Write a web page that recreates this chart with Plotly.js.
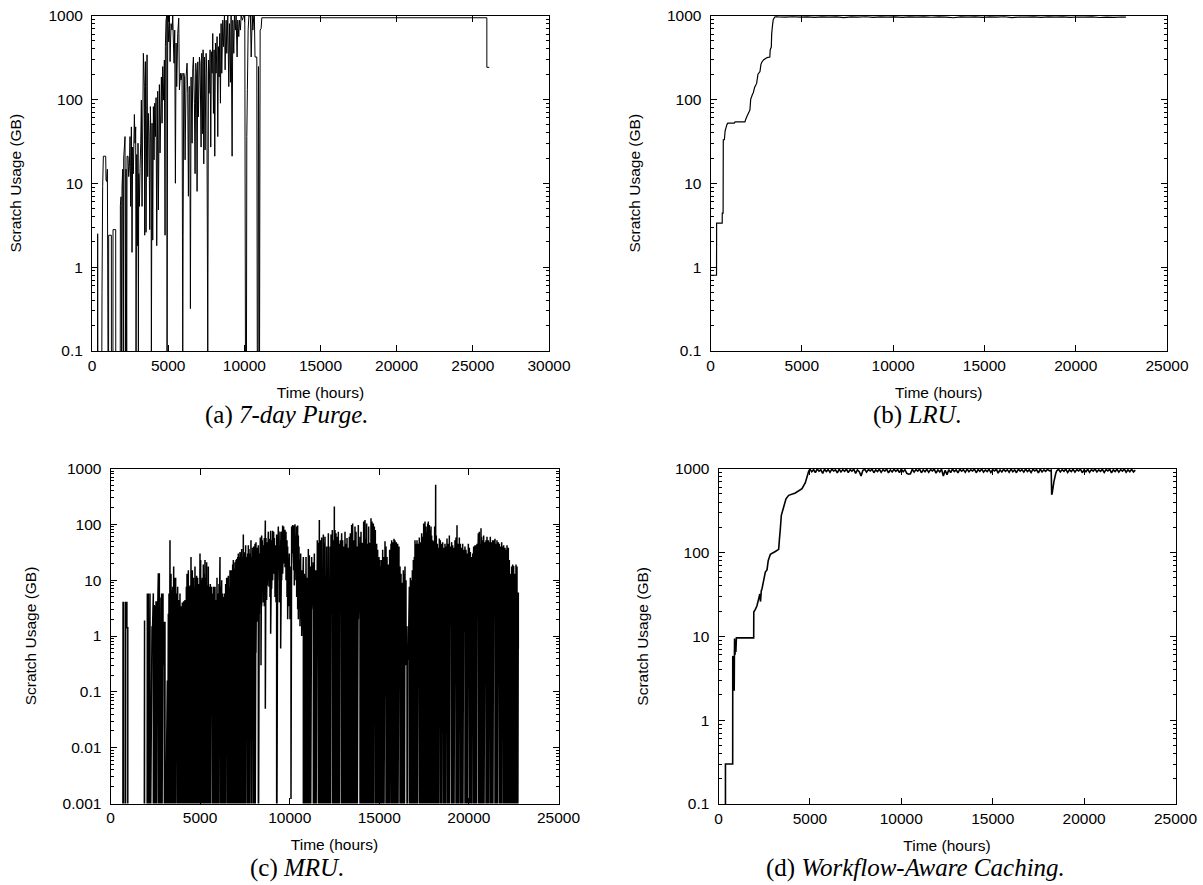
<!DOCTYPE html>
<html>
<head>
<meta charset="utf-8">
<script src="https://cdn.plot.ly/plotly-3.0.1.min.js"></script>
<style>html,body{margin:0;padding:0;background:#fff;}</style>
</head>
<body>
<div id="chart" style="width:1203px;height:885px;"></div>
<script>
// ---------------- DATA ----------------
// Tick labels
const xTicksA = [0, 5000, 10000, 15000, 20000, 25000, 30000];
const xTicksB = [0, 5000, 10000, 15000, 20000, 25000];
const yTicksUsage = [0.1, 1, 10, 100, 1000];
const yTicksUsageLabels = ['0.1', '1', '10', '100', '1000'];
const yTicksMRU = [0.001, 0.01, 0.1, 1, 10, 100, 1000];
const yTicksMRULabels = ['0.001', '0.01', '0.1', '1', '10', '100', '1000'];
const captions = ['(a) <i>7-day Purge.</i>', '(b) <i>LRU.</i>', '(c) <i>MRU.</i>', '(d) <i>Workflow-Aware Caching.</i>'];
const xTitle = 'Time (hours)';
const yTitle = 'Scratch Usage (GB)';

// (a) 7-day Purge: scratch usage (GB) over time (hours); 0 = empty scratch
const purgeHours = [
  0,360,372,385,645,657,700,745,900,920,
  960,1010,1050,1090,1095,1270,1275,1375,1380,1555,
  1560,1855,1862,1905,1949,1971,2015,2059,2080,2168,
  2190,2234,2278,2300,2365,2409,2453,2497,2540,2584,
  2628,2672,2716,2782,2825,2869,2891,2935,2979,3022,
  3044,3066,3110,3154,3198,3241,3285,3373,3438,3460,
  3504,3548,3613,3657,3701,3745,3789,3833,3876,3898,
  3942,3986,4030,4073,4117,4161,4205,4249,4314,4358,
  4424,4467,4555,4599,4643,4686,4752,4796,4818,4862,
  4906,4928,4971,5037,5081,5125,5190,5256,5300,5344,
  5387,5431,5475,5519,5563,5628,5694,5738,5803,5847,
  5913,5957,5980,6023,6066,6110,6176,6241,6285,6329,
  6373,6417,6460,6504,6570,6614,6658,6723,6767,6811,
  6855,6899,6942,6986,7052,7096,7161,7205,7249,7293,
  7337,7380,7424,7490,7534,7599,7643,7687,7753,7796,
  7840,7884,7928,7972,8015,8059,8103,8147,8212,8256,
  8300,8344,8387,8431,8475,8519,8585,8629,8694,8738,
  8804,8848,8913,8979,9023,9088,9132,9198,9242,9307,
  9351,9417,9461,9526,9570,9636,9680,9745,9789,9877,
  9943,10030,10074,10140,10162,10200,10250,10300,10400,10450,
  10520,10560,10620,10660,10700,10820,10850,10900,10928,10960,
  10975,11000,11016,11038,11103,11147,25920,25920,26080
];
const purgeGB = [
  0,0,2.5,0,0,0.5,9.1,21,21,11,
  10.5,14.7,0,0,2.4,2.4,0,0,2.8,2.8,
  0,0,5.4,6.9,0,9,14.7,0,20,36,
  0,14.7,0,21,21,12,15.8,36,5.3,47,
  1.5,27,13,66,30,47,0,22,1.8,30,
  0,13,5.3,15,30,98,5.3,354,142,2.4,
  282,2.6,340,12,68,36,2.8,82,30,0,
  52,2.1,82,19,90,36,105,1.8,125,4.8,
  150,23,185,52,246,98,295,2.4,425,880,
  990,0,990,485,990,282,800,670,990,470,
  270,670,10,470,142,610,930,130,205,170,
  205,0,2.4,205,185,19,185,270,118,7,
  142,142,0.32,185,30,235,320,90,13,270,
  205,8,280,62,320,270,27,354,39,390,
  17,320,25,354,205,0,295,118,390,27,
  370,205,610,68,390,21,470,205,560,36,
  425,185,610,90,800,205,880,425,990,225,
  880,354,990,142,800,160,990,21,880,354,
  990,670,990,320,880,560,880,670,990,880,
  990,990,0,0,36,130,670,990,990,320,
  990,670,990,990,320,320,0,0,246,23,
  0,0,4.8,670,700,940,940,241,241
];

// (b) LRU
const lruHours = [
  0,330,335,640,645,690,700,760,800,850,
  900,950,1300,1350,1885,1930,2000,2100,2160,2200,
  2300,2343,2420,2527,2600,2710,2760,2802,2900,3000,
  3100,3250,3270,3330,3350,3400,3440,3520,3571,3700,
  4100,4500,4900,5300,5700,6100,6500,6900,7300,7700,
  8100,8500,8900,9300,9700,10100,10500,10900,11300,11700,
  12100,12500,12900,13300,13700,14100,14500,14900,15300,15700,
  16100,16500,16900,17300,17700,18100,18500,18900,19300,19700,
  20100,20500,20900,21300,21700,22100,22500,22750
];
const lruGB = [
  0.8,0.8,3.35,3.35,4.4,4.4,33,33,42,46,
  50,52,52,54,54,58,63,70,75,100,
  115,120,140,155,200,215,260,275,295,305,
  315,320,390,420,600,780,900,960,965,962,
  958,966,955,963,950,965,958,962,945,963,
  957,966,952,962,958,964,948,961,957,965,
  953,962,958,940,961,956,964,950,962,957,
  966,944,960,955,963,951,961,957,965,948,
  960,954,962,946,958,952,960,958
];

// (c) MRU: sampled peaks and the trough that follows each peak
const mruHours = [
  688,700,740,840,850,915,965,1880,1900,2040,
  2055,2111,2204,2316,2390,2446,2483,2539,2613,2669,
  2725,2762,2855,2930,3004,3041,3171,3227,3264,3320,
  3376,3413,3469,3525,3562,3599,3636,3692,3748,3822,
  3878,3934,4008,4083,4157,4232,4269,4306,4343,4380,
  4436,4492,4529,4566,4622,4660,4715,4753,4808,4864,
  4920,4994,5031,5087,5124,5180,5236,5273,5310,5366,
  5422,5459,5515,5571,5645,5701,5757,5831,5887,5943,
  5999,6054,6110,6166,6203,6259,6315,6371,6427,6482,
  6538,6575,6612,6668,6706,6761,6817,6854,6910,6947,
  7003,7040,7096,7133,7189,7226,7282,7319,7375,7412,
  7468,7505,7542,7598,7654,7691,7728,7784,7840,7877,
  7933,7989,8063,8119,8156,8212,8249,8305,8361,8398,
  8435,8472,8528,8584,8640,8677,8714,8751,8807,8844,
  8900,8937,8993,9049,9105,9142,9179,9235,9272,9328,
  9365,9421,9458,9495,9551,9607,9663,9737,9793,9849,
  9886,9923,9979,10016,10072,10109,10165,10221,10258,10295,
  10351,10389,10444,10482,10519,10575,10612,10668,10761,10817,
  10854,10910,10966,11040,11096,11152,11226,11319,11375,11449,
  11542,11598,11654,11710,11784,11877,11933,11970,12063,12156,
  12249,12305,12379,12435,12491,12528,12584,12640,12714,12770,
  12826,12900,12956,13012,13086,13142,13198,13272,13328,13384,
  13458,13514,13570,13644,13700,13756,13830,13923,13979,14053,
  14128,14202,14258,14295,14351,14407,14481,14537,14593,14667,
  14723,14779,14853,14909,14983,15039,15095,15132,15188,15244,
  15318,15374,15430,15504,15578,15653,15690,15746,15820,15876,
  15950,16025,16099,16155,16211,16285,16341,16397,16434,16490,
  16546,16583,16620,16676,16732,16769,16843,16899,16955,16992,
  17048,17104,17178,17234,17290,17364,17420,17476,17513,17550,
  17606,17662,17699,17736,17792,17848,17885,17922,17978,18034,
  18089,18145,18182,18238,18294,18350,18406,18480,18536,18592,
  18666,18722,18778,18852,18908,18964,19038,19094,19150,19224,
  19280,19336,19410,19466,19522,19596,19652,19708,19782,19838,
  19894,19968,20024,20080,20154,20210,20266,20340,20396,20452,
  20526,20582,20638,20675,20712,20768,20824,20898,20954,21010,
  21084,21140,21196,21270,21326,21382,21456,21512,21568,21642,
  21698,21754,21828,21884,21940,22014,22070,22126,22163,22200,
  22256,22312,22386,22442,22498,22572,22628,22684,22721,22758
];
const mruPeakGB = [
  0,4,4,0,4,4,1.4,0,1.9,0,
  5.8,5.8,5.8,1.5,5.8,3.6,3.4,4.2,4.2,13.3,
  13.3,4.9,5.8,5.8,1.8,1.8,0.16,2.5,5.8,52,
  13,6.6,7.6,17.5,11,7.6,11,5.8,7.6,4.4,
  5.8,3.4,4,4.2,4.4,7.6,13,5.8,15,7.6,
  8,26,8.5,15,11,7.6,17.5,11,12,11,
  8.5,30,23,10,11,19,13,23,11,21,
  8,17.5,7.6,8.5,7.6,5.8,7.6,7.6,4.4,11,
  5.8,8.5,26,7.6,10,5.8,5,5.8,8.5,11,
  11,12,7.6,15,15,15,19,23,16,21,
  23,24,26,30,26,32,30,36,26,66,
  30,32,42,26,30,42,36,30,52,26,
  38,40,45,48,38,38,42,30,58,52,
  63,52,42,57,117,57,48,42,74,55,
  52,77,52,77,74,57,42,40,66,40,
  91,40,74,52,74,95,91,80,74,52,
  40,23,30,17.5,15,91,97,95,91,100,
  63,91,95,63,40,23,30,15,26,13,
  12,26,11,36,28,17.5,26,21,30,15,
  52,47,120,52,58,66,47,60,40,69,
  40,66,79,52,208,79,69,60,74,45,
  52,69,52,40,74,45,57,38,60,69,
  97,104,52,91,74,40,97,60,74,47,
  112,120,55,104,45,91,47,128,112,104,
  91,79,45,35,26,23,17.5,23,35,26,
  50,40,26,19,35,45,52,48,55,52,
  48,45,40,17.5,13,9,15,13,17.5,10,
  1.5,0.37,0.4,7.6,11,10,15,23,26,52,
  45,52,45,58,48,69,60,104,91,112,
  91,74,104,112,97,79,91,63,52,50,
  91,510,63,45,38,56,52,45,48,38,
  45,40,56,45,63,40,48,42,38,52,
  58,96,45,58,45,38,45,35,40,35,
  30,45,38,32,26,30,40,42,42,45,
  69,74,45,85,60,52,63,48,52,60,
  52,48,60,48,52,52,55,45,52,48,
  45,40,48,40,42,38,35,42,23,38,
  23,13,17.5,19,18,13,19,17.5,5.8,6
];
const mruTroughGB = [
  0,4,0,0,4,1.4,0,0,0,0,
  0,0,0,0.5,0,0,0,0,1.2,0,
  0,0,0,0.3,0,0,0,0,0,0,
  0,0,0,0,0,0,0,0.8,0,0,
  0,0,0,0,0,0,1.5,0,0,0,
  0,0.3,0,0,0,0,0,0,0,0,
  0,0,0,2,0,0,0,0,0,0,
  0,0,0,0,1,0,0,0,0,0,
  0,0.5,0,0,0,0,0,0,0,2,
  0,0,0,0,0,0,0.2,0,0,0,
  0,3,0,0,0,0,1.5,0,0,0,
  0,0,0,4,0,0,0,0.6,0,0,
  5,0,0,0.5,3,1.8,0,2.5,5,0.3,
  3.4,6,4,3.4,0.05,5.8,4.4,8,10,7.6,
  5,1.1,7,10,13,15,5,4,0,10,
  15,4,6.6,0.6,10,13,20,17,10,5,
  2,5,3.4,2,0.0012,20,30,15,8,25,
  10,5,3,2,3,1.5,2,1,0,0,
  0,0,0,0,0,0,3,0,0,0,
  5,0,0,0,0,0,0,0,0,0,
  0,2.5,0,0,0,0,0,0,0,0,
  3.4,0,0,0,0,0,0,0,0,0,
  0,0,0,0,0,0,2,0,0,0,
  0,0,0,0,0,0,0,0,0,0,
  1.3,0,0,0,0,0,0,0,0,0,
  0.08,0,0,0,0,1.3,0,0,0,0,
  0,0,0.3,0,0,0,0,0,0.3,0.3,
  0,0.37,0.4,0,0,0,0,0,0,0,
  0,0,1.6,0,0,0,0,0,0,0.5,
  0,0,0,0,0,0,0,2,0,0,
  0,0,0,0,0,1.5,0,0,0.6,0,
  0,0.8,0,0,0,1.5,0,0,0,2.5,
  0,0,0,2,0,0,0,1.2,0,0,
  0,3,0,0,0,2.8,0,0,0,2.6,
  0,0,0,3,0,0,0,2.5,0,0,
  0,3,0,0,0,2.2,0,0,0,1.6,
  0,0,0,2,0,0,0,0,0,0,
  0,0,0,0,0,0,0,0,0,0.6
];

// (d) Workflow-Aware Caching
const wacHours = [
  380,380,776,780,800,820,860,870,880,900,
  920,950,980,1925,1930,2015,2100,2197,2260,2300,
  2340,2380,2471,2562,2653,2720,2781,2836,3109,3291,
  3328,3383,3437,3565,3693,3838,4203,4568,4750,4841,
  4932,
  5000,5100,5200,5300,5400,5500,5600,5700,5800,5900,
  6000,6100,6200,6300,6400,6500,6600,6700,6800,6900,
  7000,7100,7200,7300,7400,7500,7600,7700,7800,7900,
  8000,8100,8200,8300,8400,8500,8600,8700,8800,8900,
  9000,9100,9200,9300,9400,9500,9600,9700,9800,9900,
  10000,10100,10200,10300,10400,10500,10600,10700,10800,10900,
  11000,11100,11200,11300,11400,11500,11600,11700,11800,11900,
  12000,12100,12200,12300,12400,12500,12600,12700,12800,12900,
  13000,13100,13200,13300,13400,13500,13600,13700,13800,13900,
  14000,14100,14200,14300,14400,14500,14600,14700,14800,14900,
  15000,15100,15200,15300,15400,15500,15600,15700,15800,15900,
  16000,16100,16200,16300,16400,16500,16600,16700,16800,16900,
  17000,17100,17200,17300,17400,17500,17600,17700,17800,17900,
  18000,18100,18200,18227,18260,18350,18450,18500,
  18600,18700,18800,18900,
  19000,19100,19200,19300,19400,19500,19600,19700,19800,19900,
  20000,20100,20200,20300,20400,20500,20600,20700,20800,20900,
  21000,21100,21200,21300,21400,21500,21600,21700,21800,21900,
  22000,22100,22200,22300,22400,22500,22600,22700,22800
];
const wacGB = [
  0,0.3,0.3,5.7,5.8,2.3,2.3,5.8,9.4,6,
  7,6.5,9.6,9.6,19.5,21,23,28,32,26,
  35,37,46.5,58.5,62,80,88,95,103,109,
  140,192,278,349,438,481,513,577,681,795,
  930,
  985,920,975,900,990,935,970,880,985,925,
  975,905,990,940,970,890,985,915,975,930,
  990,900,975,935,985,880,970,920,820,960,
  985,910,975,940,990,895,970,925,985,905,
  975,935,990,890,970,915,985,930,975,900,
  990,920,975,880,860,870,985,910,975,935,
  990,895,970,920,985,905,975,940,990,885,
  970,915,985,820,960,850,975,900,990,925,
  970,890,985,935,975,905,990,920,970,940,
  985,895,975,930,990,910,970,925,985,900,
  975,940,990,885,970,915,985,930,975,905,
  990,920,970,895,985,935,975,910,990,925,
  970,900,985,940,975,890,990,915,970,930,
  985,945,960,490,520,700,880,940,
  985,915,975,930,
  990,900,970,925,985,910,975,940,990,895,
  970,920,985,905,975,935,990,915,970,930,
  985,900,975,940,990,890,970,925,985,910,
  975,935,990,905,970,920,985,915,960
];

// ---------------- PLOT ----------------
// A log axis cannot show 0 GB: an empty scratch is drawn below the axis floor,
// where the subplot clips it away.
const belowFloor = level => v => (v > 0 ? v : level);
const onUsageAxis = belowFloor(yTicksUsage[0] * 0.85);
const onMRUAxis = belowFloor(yTicksMRU[0] * 1e-2);

const mruX = [], mruY = [];
mruHours.forEach((t, i) => {
  mruX.push(t, t);
  mruY.push(onMRUAxis(mruPeakGB[i]), onMRUAxis(mruTroughGB[i]));
});

const traces = [
  {x: purgeHours, y: purgeGB.map(onUsageAxis), xaxis: 'x', yaxis: 'y', type: 'scatter', mode: 'lines',
   line: {color: '#000', width: 1, simplify: false}, name: '7-day Purge'},
  {x: lruHours, y: lruGB.map(onUsageAxis), xaxis: 'x2', yaxis: 'y2', type: 'scatter', mode: 'lines',
   line: {color: '#000', width: 1.2, simplify: false}, name: 'LRU'},
  {x: mruX, y: mruY, xaxis: 'x3', yaxis: 'y3', type: 'scatter', mode: 'lines',
   line: {color: '#000', width: 1.5, simplify: false}, name: 'MRU'},
  {x: wacHours, y: wacGB.map(onUsageAxis), xaxis: 'x4', yaxis: 'y4', type: 'scatter', mode: 'lines',
   line: {color: '#000', width: 1.6, simplify: false}, name: 'Workflow-Aware Caching'}
];

const W = 1203, H = 885;
const FS = 15.5;
const sans = 'Liberation Sans, Arial, Helvetica, sans-serif';
const px = (a, b) => [a / W, b / W];
const py = (top, bottom) => [1 - bottom / H, 1 - top / H];

function minorLog(lo, hi) {
  const v = [];
  for (let e = lo; e < hi; e++) for (let k = 2; k <= 9; k++) v.push(k * Math.pow(10, e));
  return v;
}
function xAxis(domain, ticks, anchor) {
  return {
    domain, anchor, range: [0, ticks[ticks.length - 1]], fixedrange: true,
    tickmode: 'array', tickvals: ticks, ticktext: ticks.map(String),
    ticks: 'inside', ticklen: 6, tickwidth: 1, tickcolor: '#000',
    showline: true, linecolor: '#000', linewidth: 1, mirror: 'allticks',
    showgrid: false, zeroline: false, automargin: false,
    tickfont: {family: sans, size: FS, color: '#000'},
    title: {text: xTitle, font: {family: sans, size: FS, color: '#000'}, standoff: 14}
  };
}
function yAxis(domain, ticks, labels, anchor) {
  const lo = Math.round(Math.log10(ticks[0])), hi = Math.round(Math.log10(ticks[ticks.length - 1]));
  return {
    type: 'log', domain, anchor, range: [lo, hi], fixedrange: true,
    tickmode: 'array', tickvals: ticks, ticktext: labels,
    ticks: 'inside', ticklen: 6, tickwidth: 1, tickcolor: '#000',
    minor: {tickmode: 'array', tickvals: minorLog(lo, hi), ticks: 'inside', ticklen: 3, tickwidth: 1, tickcolor: '#000', showgrid: false},
    showline: true, linecolor: '#000', linewidth: 1, mirror: 'allticks',
    showgrid: false, zeroline: false, automargin: false, ticklabelstandoff: 5,
    tickfont: {family: sans, size: FS, color: '#000'},
    title: {text: yTitle, font: {family: sans, size: FS, color: '#000'}, standoff: 22}
  };
}

const capFont = {family: 'Liberation Serif, Times New Roman, serif', size: 25, color: '#000'};
const capPos = [[287, 415], [917, 415], [297, 868], [916, 868]];

const layout = {
  width: W, height: H,
  margin: {l: 0, r: 0, t: 0, b: 0},
  paper_bgcolor: '#fff', plot_bgcolor: '#fff',
  showlegend: false,
  font: {family: sans, size: FS, color: '#000'},
  xaxis: xAxis(px(92, 549), xTicksA, 'y'),
  yaxis: yAxis(py(15.5, 351), yTicksUsage, yTicksUsageLabels, 'x'),
  xaxis2: xAxis(px(710.5, 1167), xTicksB, 'y2'),
  yaxis2: yAxis(py(15.5, 351), yTicksUsage, yTicksUsageLabels, 'x2'),
  xaxis3: xAxis(px(110.5, 558.5), xTicksB, 'y3'),
  yaxis3: yAxis(py(468.5, 803.5), yTicksMRU, yTicksMRULabels, 'x3'),
  xaxis4: xAxis(px(718.5, 1175.5), xTicksB, 'y4'),
  yaxis4: yAxis(py(468.7, 804), yTicksUsage, yTicksUsageLabels, 'x4'),
  annotations: captions.map((t, i) => ({
    text: t, xref: 'paper', yref: 'paper',
    x: capPos[i][0] / W, y: 1 - capPos[i][1] / H,
    xanchor: 'center', yanchor: 'middle', showarrow: false, font: capFont
  }))
};

Plotly.newPlot('chart', traces, layout, {staticPlot: true, displayModeBar: false});
</script>
</body>
</html>
